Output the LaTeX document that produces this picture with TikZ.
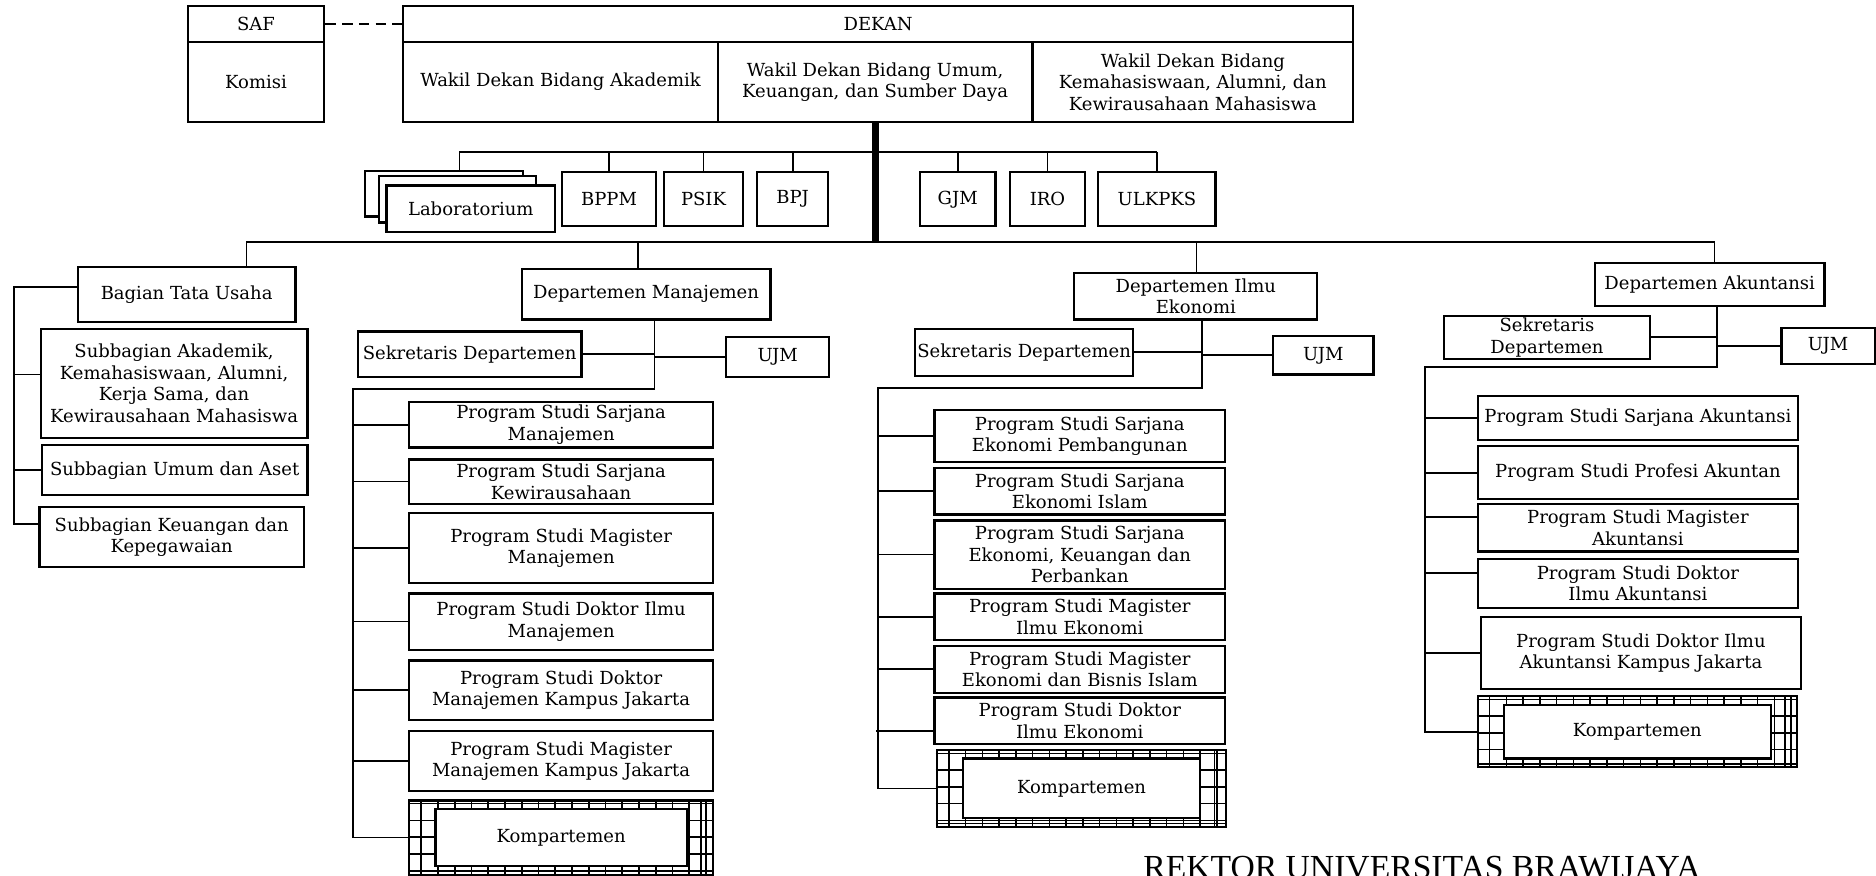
\documentclass[tikz,border=0pt]{standalone}
\usepackage{fontspec}
\setmainfont{DejaVu Serif}
\newfontfamily\rektorfont{Liberation Serif}
\newcommand\pxl{0.25mm}

\tikzset{
  box/.style={draw, line width=1.3pt, fill=white, align=center,
    inner xsep=1pt, inner ysep=0pt, font=\fontsize{10.7}{12.8}\selectfont},
  sz/.style 2 args={minimum width={(#1)*\pxl}, minimum height={(#2)*\pxl}},
  link/.style={line width=1.1pt},
  gridline/.style={line width=0.9pt},
}

% kompartemen box: name, centre x, centre y, width, height
\newcommand\komp[5]{%
  \node[box, sz={#4}{#5}] (#1) at (#2,#3) {};
  \foreach \gx in {11,25,...,#4}
    \draw[gridline] ([xshift=\gx*\pxl]#1.north west) -- ([xshift=\gx*\pxl]#1.south west);
  \foreach \gy in {3.5,17.5,...,#5}
    \draw[gridline] ([yshift=-\gy*\pxl]#1.north west) -- ([yshift=-\gy*\pxl]#1.north east);
  \draw[gridline] ([xshift=-11*\pxl]#1.north east) -- ([xshift=-11*\pxl]#1.south east);
  \draw[gridline] ([yshift=3.5*\pxl]#1.south west) -- ([yshift=3.5*\pxl]#1.south east);
  \node[box, sz={#4-44}{#5-14}] (#1-in) at (#2,#3) {Kompartemen};
}

\begin{document}
\begin{tikzpicture}[x=\pxl, y=-\pxl]
  \useasboundingbox (0,0) rectangle (1568,732);

  % pimpinan
  \node[box, sz={114}{30}] (saf) at (214,20) {SAF};
  \node[box, sz={114}{67}] (komisi) at (214,68.5) {Komisi};
  \node[box, sz={794}{30}] (dekan) at (734,20) {DEKAN};
  \node[box, sz={263}{67}] (wd1) at (468.5,68.5) {Wakil Dekan Bidang Akademik};
  \node[box, sz={263}{67}] (wd2) at (731.5,68.5)
    {Wakil Dekan Bidang Umum,\\Keuangan, dan Sumber Daya};
  \node[box, sz={268}{67}] (wd3) at (997,68.5)
    {Wakil Dekan Bidang\\Kemahasiswaan, Alumni, dan\\Kewirausahaan Mahasiswa};
  \draw[link, dash pattern=on 2.2mm off 1.3mm] (saf) -- (dekan);

  % unit penunjang
  \node[box, sz={132}{38}] (lab1) at (371,162) {};
  \node[box, sz={131}{39}] (lab2) at (382.5,166.5) {};
  \node[box, sz={141}{39}] (lab3) at (393.5,174.5) {Laboratorium};
  \node[box, sz={78}{45}] (bppm) at (509,166.5) {BPPM};
  \node[box, sz={66}{45}] (psik) at (588,166.5) {PSIK};
  \node[box, sz={59}{45}] (bpj) at (662.5,166.5) {BPJ};
  \node[box, sz={63}{45}] (gjm) at (800.5,166.5) {GJM};
  \node[box, sz={63}{45}] (iro) at (875.5,166.5) {IRO};
  \node[box, sz={98}{45}] (ulk) at (967,166.5) {ULKPKS};

  \coordinate (labDrop) at (384,127);
  \draw[link] (labDrop) -- (ulk.north |- labDrop);
  \draw[link] (labDrop) -- (labDrop |- lab1.north);
  \foreach \n in {bppm,psik,bpj,gjm,iro,ulk}
    \draw[link] (\n.north) -- (\n.north |- labDrop);

  % garis utama
  \coordinate (dropT) at (206,202);
  \coordinate (dropM) at (533,202);
  \coordinate (dropE) at (1000,202);
  \coordinate (dropA) at (1433,202);
  \draw[link] (dropT) -- (dropA);
  \draw[line width=4.3pt] (wd2.south) -- (wd2.south |- dropT);

  % bagian tata usaha
  \node[box, sz={182}{46}] (btu) at (156,246) {Bagian Tata Usaha};
  \node[box, sz={223}{91}] (sub1) at (145.5,320.5)
    {Subbagian Akademik,\\Kemahasiswaan, Alumni,\\Kerja Sama, dan\\Kewirausahaan Mahasiswa};
  \node[box, sz={222}{42}] (sub2) at (146,393) {Subbagian Umum dan Aset};
  \node[box, sz={221}{50}] (sub3) at (143.5,449)
    {Subbagian Keuangan dan\\Kepegawaian};
  \draw[link] (dropT) -- (dropT |- btu.north);
  \coordinate (tuA) at (12,240);
  \coordinate (tuB) at (12,438);
  \draw[link] (btu.west |- tuA) -- (tuA) -- (tuB) -- (sub3.west |- tuB);
  \draw[link] ([yshift=7.5*\pxl]sub1.west) -- +(-22,0);
  \draw[link] (sub2.west) -- (sub2.west -| tuA);

  % departemen manajemen
  \node[box, sz={208}{42}] (dm) at (540,246) {Departemen Manajemen};
  \node[box, sz={187}{38}] (sek1) at (392.5,296) {Sekretaris Departemen};
  \node[box, sz={86}{33}] (ujm1) at (650,298.5) {UJM};
  \node[box, sz={254}{38}] (pm1) at (469,355) {Program Studi Sarjana\\Manajemen};
  \node[box, sz={254}{37}] (pm2) at (469,402.5) {Program Studi Sarjana\\Kewirausahaan};
  \node[box, sz={254}{58}] (pm3) at (469,458) {Program Studi Magister\\Manajemen};
  \node[box, sz={254}{47}] (pm4) at (469,519.5) {Program Studi Doktor Ilmu\\Manajemen};
  \node[box, sz={254}{50}] (pm5) at (469,577)
    {Program Studi Doktor\\Manajemen Kampus Jakarta};
  \node[box, sz={254}{50}] (pm6) at (469,636)
    {Program Studi Magister\\Manajemen Kampus Jakarta};
  \komp{km}{469}{700}{254}{62}
  \draw[link] (dropM) -- (dropM |- dm.north);
  \coordinate (mA) at (547,325);
  \coordinate (mB) at (295,325);
  \draw[link] (dm.south -| mA) -- (mA) -- (mB) -- (mB |- km.west) -- (km.west);
  \draw[link] (sek1.east) -- (sek1.east -| mA);
  \draw[link] (ujm1.west) -- (ujm1.west -| mA);
  \foreach \n in {pm1,pm2,pm3,pm4,pm5,pm6}
    \draw[link] (\n.west) -- (\n.west -| mB);

  % departemen ilmu ekonomi
  \node[box, sz={203}{39}] (de) at (999.5,247.5) {Departemen Ilmu\\Ekonomi};
  \node[box, sz={182}{39}] (sek2) at (856,294.5) {Sekretaris Departemen};
  \node[box, sz={84}{32}] (ujm2) at (1106,297) {UJM};
  \node[box, sz={243}{43}] (pe1) at (902.5,364.5)
    {Program Studi Sarjana\\Ekonomi Pembangunan};
  \node[box, sz={243}{39}] (pe2) at (902.5,410.5) {Program Studi Sarjana\\Ekonomi Islam};
  \node[box, sz={243}{57}] (pe3) at (902.5,463.5)
    {Program Studi Sarjana\\Ekonomi, Keuangan dan\\Perbankan};
  \node[box, sz={243}{39}] (pe4) at (902.5,515.5) {Program Studi Magister\\Ilmu Ekonomi};
  \node[box, sz={243}{39}] (pe5) at (902.5,559.5)
    {Program Studi Magister\\Ekonomi dan Bisnis Islam};
  \node[box, sz={243}{39}] (pe6) at (902.5,602.5) {Program Studi Doktor\\Ilmu Ekonomi};
  \komp{ke}{904}{659}{242}{64}
  \draw[link] (dropE) -- (dropE |- de.north);
  \coordinate (eA) at (1005,324);
  \coordinate (eB) at (734,324);
  \draw[link] (de.south -| eA) -- (eA) -- (eB) -- (eB |- ke.west) -- (ke.west);
  \draw[link] (sek2.east) -- (sek2.east -| eA);
  \draw[link] (ujm2.west) -- (ujm2.west -| eA);
  \foreach \n in {pe1,pe2,pe3,pe4,pe5}
    \draw[link] (\n.west) -- (\n.west -| eB);
  \draw[link] ([yshift=-8.5*\pxl]pe6.west) -- +(-48,0);

  % departemen akuntansi
  \node[box, sz={192}{36}] (da) at (1429,238) {Departemen Akuntansi};
  \node[box, sz={172}{36}] (sek3) at (1293,282) {Sekretaris\\Departemen};
  \node[box, sz={78}{30}] (ujm3) at (1528,289) {UJM};
  \node[box, sz={268}{37}] (pa1) at (1369,349.5) {Program Studi Sarjana Akuntansi};
  \node[box, sz={268}{44}] (pa2) at (1369,395) {Program Studi Profesi Akuntan};
  \node[box, sz={268}{40}] (pa3) at (1369,441) {Program Studi Magister\\Akuntansi};
  \node[box, sz={268}{41}] (pa4) at (1369,487.5) {Program Studi Doktor\\Ilmu Akuntansi};
  \node[box, sz={267}{60}] (pa5) at (1371.5,546)
    {Program Studi Doktor Ilmu\\Akuntansi Kampus Jakarta};
  \komp{ka}{1368.5}{611.5}{267}{59}
  \draw[link] (dropA) -- (dropA |- da.north);
  \coordinate (aA) at (1435,307);
  \coordinate (aB) at (1191,307);
  \draw[link] (da.south -| aA) -- (aA) -- (aB) -- (aB |- ka.west) -- (ka.west);
  \draw[link] (sek3.east) -- (sek3.east -| aA);
  \draw[link] (ujm3.west) -- (ujm3.west -| aA);
  \foreach \n in {pa1,pa2,pa5}
    \draw[link] (\n.west) -- (\n.west -| aB);
  \draw[link] ([yshift=9*\pxl]pa3.west) -- +(-44,0);
  \draw[link] ([yshift=8.5*\pxl]pa4.west) -- +(-44,0);

  \node[font=\rektorfont\fontsize{20}{24}\selectfont, anchor=base] (rektor)
    at (1188.5,734.6) {REKTOR UNIVERSITAS BRAWIJAYA};
\end{tikzpicture}
\end{document}
